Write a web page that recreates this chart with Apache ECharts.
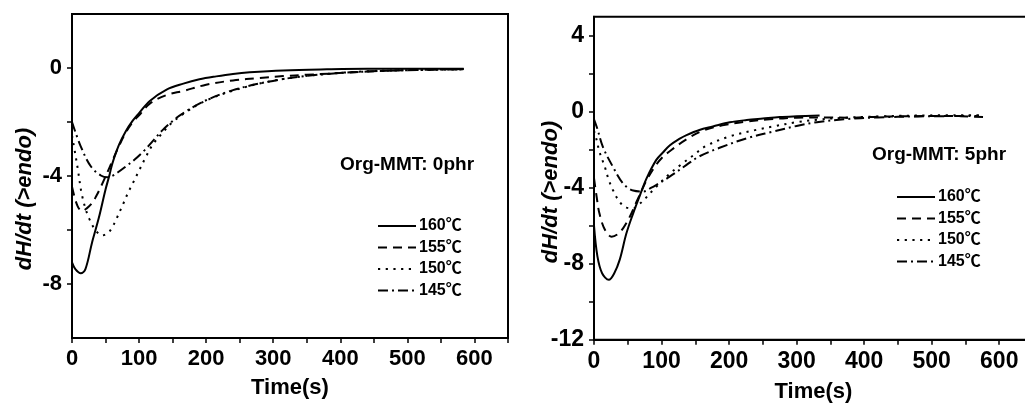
<!DOCTYPE html>
<html><head><meta charset="utf-8">
<script src="https://cdn.jsdelivr.net/npm/echarts@6/dist/echarts.min.js"></script>
<style>html,body{margin:0;padding:0;background:#fff}#c{width:1025px;height:403px}</style>
</head><body><div id="c"></div>
<script>
const seriesNames = ['160℃', '155℃', '150℃', '145℃'];

// Left panel: Org-MMT 0phr
const tA160 = [0,5,13,20,30,40,50,56,60,70,80,90,100,116,141,166,190,215,240,265,315,380,440,520,584];
const vA160 = [-7.2,-7.45,-7.6,-7.45,-6.45,-5.55,-4.5,-3.95,-3.55,-2.85,-2.35,-1.97,-1.67,-1.22,-0.8,-0.58,-0.42,-0.31,-0.22,-0.16,-0.09,-0.05,-0.03,-0.03,-0.03];
const tA155 = [0,8,15,22,30,36,43,53,60,68,80,90,100,116,141,166,200,240,280,315,350,390,440,500,584];
const vA155 = [-4.4,-5.1,-5.3,-5.2,-5.0,-4.75,-4.4,-3.85,-3.45,-3.0,-2.4,-2.02,-1.75,-1.32,-1.0,-0.85,-0.62,-0.46,-0.37,-0.3,-0.25,-0.2,-0.13,-0.08,-0.04];
const tA150 = [0,5,9,14,20,26,35,45,54,60,66,76,83,91,100,110,120,135,148,166,196,240,290,340,390,440,500,584];
const vA150 = [-2.5,-3.2,-3.8,-4.6,-5.2,-5.6,-6.0,-6.2,-6.1,-5.9,-5.6,-5.05,-4.65,-4.25,-3.8,-3.3,-2.85,-2.4,-2.05,-1.7,-1.25,-0.84,-0.52,-0.32,-0.2,-0.12,-0.08,-0.05];
const tA145 = [0,13,28,43,53,60,68,80,93,108,120,135,153,166,196,240,290,340,390,440,500,584];
const vA145 = [-2.0,-2.9,-3.64,-3.98,-4.05,-4.0,-3.87,-3.65,-3.4,-3.05,-2.72,-2.3,-1.9,-1.67,-1.24,-0.82,-0.52,-0.32,-0.2,-0.13,-0.08,-0.05];

// Right panel: Org-MMT 5phr
const tB160 = [0,5,12,22,30,38,48,58,68,78,92,102,112,127,137,156,176,201,226,250,275,300,334];
const vB160 = [-6.0,-7.6,-8.5,-8.85,-8.5,-7.8,-6.4,-5.35,-4.4,-3.5,-2.55,-2.15,-1.78,-1.42,-1.23,-0.96,-0.78,-0.56,-0.44,-0.36,-0.28,-0.24,-0.2];
const tB155 = [0,4,8,16,26,35,43,53,63,70,78,90,100,115,137,161,190,226,260,300,349,374,423,470,522,576];
const vB155 = [-3.5,-4.5,-5.35,-6.2,-6.58,-6.45,-6.14,-5.53,-4.74,-4.2,-3.6,-2.9,-2.45,-2.0,-1.45,-1.0,-0.72,-0.52,-0.4,-0.32,-0.3,-0.32,-0.26,-0.24,-0.22,-0.28];
const tB150 = [0,4,8,16,21,28,38,48,58,66,75,90,110,130,147,166,201,241,265,300,330,370,420,480,576];
const vB150 = [-1.0,-1.5,-2.1,-2.9,-3.5,-4.12,-4.75,-5.05,-5.08,-4.9,-4.6,-4.03,-3.33,-2.75,-2.3,-1.8,-1.3,-0.95,-0.78,-0.55,-0.42,-0.32,-0.25,-0.2,-0.18];
const tB145 = [0,5,13,28,43,58,73,85,92,112,137,156,186,226,265,300,330,370,420,480,570];
const vB145 = [-0.4,-0.9,-1.84,-2.9,-3.77,-4.15,-4.2,-4.0,-3.86,-3.42,-2.8,-2.35,-1.9,-1.4,-1.05,-0.75,-0.55,-0.4,-0.3,-0.25,-0.22];

// Axis tick values and labels
const xTickValues = [0,50,100,150,200,250,300,350,400,450,500,550,600,650];
const xLabelValues = [0,100,200,300,400,500,600];
const yLeftTicks = [-8,-6,-4,-2,0];
const yLeftLabels = [-8,-4,0];
const yRightTicks = [-12,-10,-8,-6,-4,-2,0,2,4];
const yRightLabels = [-12,-8,-4,0,4];

const panelTitles = ['Org-MMT: 0phr', 'Org-MMT: 5phr'];
const xTitle = 'Time(s)';
const yTitle = 'dH/dt (>endo)';

const FONT = '"Liberation Sans", Arial, "Noto Sans CJK SC", sans-serif';
const styles = [
  {type: 'solid', width: 2},
  {type: [9, 6], width: 2},
  {type: [2.2, 5.5], width: 2},
  {type: [10, 4, 2, 4], width: 2}
];

function pairs(t, v) { return t.map((x, i) => [x, v[i]]); }

const dataA = [pairs(tA160, vA160), pairs(tA155, vA155), pairs(tA150, vA150), pairs(tA145, vA145)];
const dataB = [pairs(tB160, vB160), pairs(tB155, vB155), pairs(tB150, vB150), pairs(tB145, vB145)];

function xAxisCfg(gi) {
  return {
    type: 'value', gridIndex: gi, min: 0, max: 650,
    name: xTitle, nameLocation: 'middle', nameGap: gi === 0 ? 39 : 41,
    nameTextStyle: {fontFamily: FONT, fontWeight: 'bold', fontSize: 22, color: '#000'},
    axisLine: {show: true, onZero: false, lineStyle: {color: '#000', width: 2}},
    axisTick: {show: true, inside: false, length: 5, customValues: xTickValues, lineStyle: {color: '#000', width: 1.5}},
    axisLabel: {customValues: xLabelValues, margin: 10, fontFamily: FONT, fontWeight: 'bold', fontSize: gi === 0 ? 22 : 23, color: '#000'},
    splitLine: {show: false}
  };
}
function yAxisCfg(gi, min, max, ticks, labels) {
  return {
    type: 'value', gridIndex: gi, min: min, max: max,
    axisLine: {show: true, onZero: false, lineStyle: {color: '#000', width: 2}},
    axisTick: {show: true, inside: false, length: 5, customValues: ticks, lineStyle: {color: '#000', width: 1.5}},
    axisLabel: {customValues: labels, margin: 10, fontFamily: FONT, fontWeight: 'bold', fontSize: gi === 0 ? 22 : 23, color: '#000'},
    splitLine: {show: false}
  };
}

const series = [];
[dataA, dataB].forEach((dset, gi) => {
  dset.forEach((d, si) => {
    series.push({
      name: seriesNames[si], type: 'line', xAxisIndex: gi, yAxisIndex: gi,
      data: d, smooth: 0.35, symbol: 'none', showSymbol: false,
      lineStyle: Object.assign({color: '#000'}, styles[si]),
      itemStyle: {color: '#000'},
      emphasis: {disabled: true}, animation: false, clip: true
    });
  });
});

function legendCfg(left, top) {
  return {
    data: seriesNames, orient: 'vertical', left: left, top: top,
    itemWidth: 38, itemHeight: 14, itemGap: 5.5, padding: 0,
    selectedMode: false,
    itemStyle: {color: 'rgba(0,0,0,0)', borderColor: 'rgba(0,0,0,0)', borderWidth: 0, opacity: 0},
    textStyle: {fontFamily: FONT, fontWeight: 'bold', fontSize: 16, lineHeight: 16, color: '#000', padding: [0,0,0,-2]}
  };
}

const chart = echarts.init(document.getElementById('c'), null, {renderer: 'canvas'});
chart.setOption({
  backgroundColor: '#fff',
  animation: false,
  grid: [
    {left: 72, top: 14, width: 436, height: 324, show: true, borderColor: '#000', borderWidth: 2, backgroundColor: 'transparent', containLabel: false, outerBoundsMode: 'none'},
    {left: 594, top: 16.7, width: 439, height: 323, show: true, borderColor: '#000', borderWidth: 2, backgroundColor: 'transparent', containLabel: false, outerBoundsMode: 'none'}
  ],
  xAxis: [xAxisCfg(0), xAxisCfg(1)],
  yAxis: [yAxisCfg(0, -10, 2, yLeftTicks, yLeftLabels), yAxisCfg(1, -12, 5, yRightTicks, yRightLabels)],
  legend: [legendCfg(377, 218), legendCfg(896, 189)],
  series: series,
  graphic: [
    {type: 'text', left: 340, top: 155, style: {text: panelTitles[0], font: 'bold 19px ' + FONT, fill: '#000'}},
    {type: 'text', left: 872, top: 145, style: {text: panelTitles[1], font: 'bold 19px ' + FONT, fill: '#000'}},
    {type: 'text', x: 25, y: 199, rotation: Math.PI / 2, style: {text: yTitle, font: 'italic bold 22px ' + FONT, fill: '#000', align: 'center', verticalAlign: 'middle'}},
    {type: 'text', x: 551, y: 192, rotation: Math.PI / 2, style: {text: yTitle, font: 'italic bold 22px ' + FONT, fill: '#000', align: 'center', verticalAlign: 'middle'}}
  ]
});
</script>
</body></html>
